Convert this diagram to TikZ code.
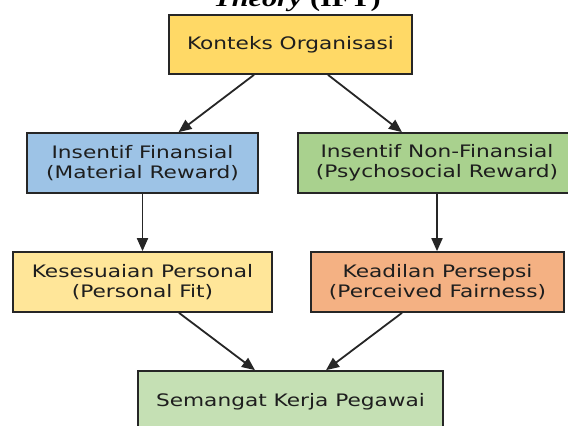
\documentclass[tikz,border=0pt]{standalone}
\usepackage{fontspec}
\usetikzlibrary{arrows.meta}
\newfontfamily\boxfont[FakeStretch=1.26]{DejaVu Sans}
\newfontfamily\titlefont[FakeStretch=1.26]{Liberation Serif}
\definecolor{cKonteks}{RGB}{255,217,102}
\definecolor{cFin}{RGB}{157,195,230}
\definecolor{cNonfin}{RGB}{169,209,142}
\definecolor{cSesuai}{RGB}{255,230,153}
\definecolor{cAdil}{RGB}{244,177,131}
\definecolor{cSemangat}{RGB}{197,224,180}
\definecolor{cEdge}{RGB}{38,38,38}
\definecolor{cText}{RGB}{30,30,30}
\tikzset{
  boxnode/.style={draw=cEdge, line width=1.7pt, rectangle, align=center,
    inner sep=0pt, text=cText,
    font=\boxfont\fontsize{17.2}{19.5}\selectfont},
  arr/.style={draw=cEdge, line width=1.8pt,
    -{Triangle[length=13pt,width=11pt]}}
}
\begin{document}
\begin{tikzpicture}[x=1pt,y=-1pt]
\clip (0,0) rectangle (568,426);
\fill[white] (0,0) rectangle (568,426);
\node[anchor=base, text=black, inner sep=0pt,
  font=\titlefont\fontsize{24}{28}\selectfont] (title) at (297,6)
  {\bfseries\itshape Theory\/ \upshape(IFT)};
\node[boxnode, fill=cKonteks, minimum width=243pt, minimum height=59pt]
  (konteks) at (290.5,44.5) {Konteks Organisasi};
\node[boxnode, fill=cFin, minimum width=231pt, minimum height=60pt]
  (fin) at (142.5,163) {Insentif Finansial\\(Material Reward)};
\node[boxnode, fill=cNonfin, minimum width=278pt, minimum height=60pt]
  (nonfin) at (437,163) {Insentif Non-Finansial\\(Psychosocial Reward)};
\node[boxnode, fill=cSesuai, minimum width=259pt, minimum height=60pt]
  (sesuai) at (142.5,282) {Kesesuaian Personal\\(Personal Fit)};
\node[boxnode, fill=cAdil, minimum width=253pt, minimum height=60pt]
  (adil) at (437.5,282) {Keadilan Persepsi\\(Perceived Fairness)};
\node[boxnode, fill=cSemangat, minimum width=305pt, minimum height=61pt]
  (semangat) at (290.5,401.5) {Semangat Kerja Pegawai};
\draw[arr] ([xshift=-36.5pt]konteks.south) -- ([xshift=36pt]fin.north);
\draw[arr] ([xshift=37.5pt]konteks.south) -- ([xshift=-35pt]nonfin.north);
\draw[arr] (fin.south) -- (sesuai.north);
\draw[arr] (nonfin.south) -- (nonfin.south |- adil.north);
\draw[arr] ([xshift=36.5pt]sesuai.south) -- ([xshift=-35.5pt]semangat.north);
\draw[arr] ([xshift=-35.5pt]adil.south) -- ([xshift=35.5pt]semangat.north);
\end{tikzpicture}
\end{document}
